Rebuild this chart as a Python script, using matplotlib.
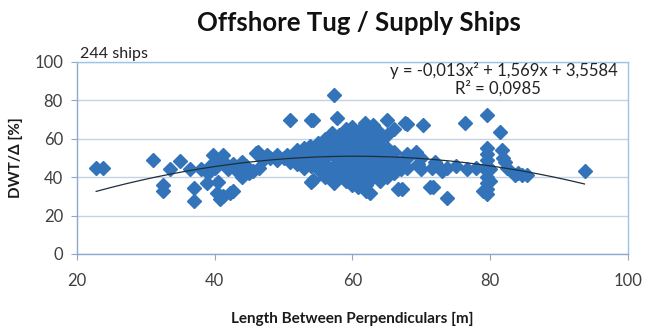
import matplotlib
matplotlib.use("Agg")
import matplotlib.pyplot as plt
import numpy as np

title = "Offshore Tug / Supply Ships"
subtitle = "244 ships"
xlabel = "Length Between Perpendiculars [m]"
ylabel = "DWT/Δ [%]"
eq_text = "y = -0,013x² + 1,569x + 3,5584"
r2_text = "R² = 0,0985"
coef = [-0.013, 1.569, 3.5584]
trend_range = [22.8, 93.7]
xticks = [20, 40, 60, 80, 100]
yticks = [0, 20, 40, 60, 80, 100]

lpp = [22.8, 23.8, 31, 32.5, 32.5, 33.5, 35, 36.4, 37, 37, 38.9, 39.3, 39.7, 41.2, 40.5, 40.8,
       40.3, 42.2, 41.2, 40, 41, 42.6, 42.6, 44, 45, 45.5, 46.3, 46.5, 46, 47.6, 49, 50.5, 52,
       53.8, 54.8, 50.9, 54, 54, 38, 39, 42, 43, 44, 48, 49, 51, 50, 47, 44.5, 43.5,
       57.4, 54.3, 57.7, 61.8, 65, 67.6, 59, 60, 61, 62, 63, 64, 54.3, 57.4, 60.8, 62.5, 66.6, 61.5,
       52, 53, 53, 54, 54, 55, 55, 55, 56, 56, 56, 57, 57, 57, 57, 58, 58, 58, 58, 58, 59, 59, 59,
       59, 59, 60, 60, 60, 60, 60, 60, 61, 61, 61, 61, 61, 62, 62, 62, 62, 62, 62, 63, 63, 63, 63,
       63, 63, 64, 64, 64, 64, 64, 65, 65, 65, 65, 66, 66, 66, 67, 67, 68, 55, 56, 58, 60, 62, 64,
       65, 53, 52, 55, 56, 57, 59, 60, 62, 63, 64, 65, 66, 56, 57, 54, 53, 52, 51, 58, 59, 61, 63,
       64, 66, 67, 71.2,
       67.9, 70.3, 76.3, 79.5, 81.4, 69.3, 69.5, 67.9, 71.5, 72.7, 73.8, 73, 76.6, 71.7, 73.7,
       67.2, 79.5, 79.5, 79.5, 79.5, 79.5, 79.5, 79.5, 79.5, 79.5, 79, 80, 81.7, 81.8, 82.1,
       82.4, 83.6, 84.6, 85.3, 84, 93.7, 70, 72, 68, 70, 75, 78, 80]
dwt = [45, 45, 49, 36, 33, 44, 48.5, 44, 34.5, 27.5, 37, 46, 51.5, 51.5, 37.5, 28.5,
       32, 32, 30, 45, 49, 47, 33, 40, 42, 43, 53, 45, 52.5, 51.5, 51.5, 51.5, 54,
       56, 57, 69.8, 70, 37.5, 44, 42, 44, 45, 48, 50, 49, 48, 50, 49, 46, 42,
       83, 70, 71, 68, 70, 68, 63, 62, 64, 63, 62, 63, 38.5, 37, 35, 32, 34, 41,
       50, 52, 48, 50, 46, 52, 48, 55, 50, 47, 54, 52, 56, 45, 60, 50, 55, 48, 58, 62, 52, 46, 57,
       42, 60, 50, 54, 48, 58, 44, 40, 52, 56, 46, 60, 38, 50, 54, 47, 58, 43, 36, 52, 49, 56, 45,
       40, 59, 50, 54, 47, 44, 57, 52, 48, 45, 55, 50, 46, 53, 48, 44, 50, 44, 42, 40, 36, 33, 38,
       40, 45, 47, 58, 60, 63, 65, 66, 66, 67, 60, 62, 65, 40, 42, 54, 55, 52, 50, 44, 38, 43, 43,
       41, 42, 47, 35,
       67.7, 67, 68, 72.5, 63.5, 53, 47, 45, 45, 45, 45, 43, 44, 35, 29,
       34, 55, 52, 49, 46, 43, 40, 37, 34, 31, 33, 38, 54, 50, 48,
       45, 41, 41, 41, 42, 43, 50, 48, 52, 44, 46, 45, 44]

marker_color = "#3273BA"
grid_color = "#C6D2E4"

fig = plt.figure(figsize=(6.46, 3.35), dpi=100)
ax = fig.add_axes([0.119, 0.242, 0.853, 0.573])

ax.plot(lpp, dwt, linestyle="none", marker="D", markersize=7.2,
        markerfacecolor=marker_color, markeredgecolor=marker_color, zorder=3)

xt = np.linspace(trend_range[0], trend_range[1], 200)
ax.plot(xt, np.polyval(coef, xt), color="#1f2f3a", linewidth=0.9, zorder=4)

ax.set_xlim(20, 100)
ax.set_ylim(0, 100)
ax.set_xticks(xticks)
ax.set_yticks(yticks)
ax.yaxis.grid(True, color=grid_color, linewidth=1.0)
ax.set_axisbelow(True)

for s in ["top", "right"]:
    ax.spines[s].set_color("#9DC3E6")
    ax.spines[s].set_linewidth(1.0)
for s in ["left", "bottom"]:
    ax.spines[s].set_color("#8EA9C8")
    ax.spines[s].set_linewidth(1.0)

ax.tick_params(axis="both", direction="out", length=4, color="#8EA9C8",
               labelsize=12, labelcolor="#404040", pad=6)
ax.tick_params(axis="x", pad=10)
for lab in ax.get_xticklabels() + ax.get_yticklabels():
    lab.set_family("Lato")

ax.set_xlabel(xlabel, fontsize=11, fontweight="bold", family="Lato", labelpad=16, color="#1a1a1a")
ax.set_ylabel(ylabel, fontsize=11, fontweight="bold", family="Lato", labelpad=8, color="#1a1a1a")

fig.text(0.555, 0.932, title, ha="center", va="center", fontsize=18.5, fontweight="bold",
         family="Lato", color="#111111")
ax.text(0.005, 1.005, subtitle, transform=ax.transAxes, ha="left", va="bottom",
        fontsize=11.5, family="Lato", color="#222222")
ax.text(0.982, 0.955, eq_text, transform=ax.transAxes, ha="right", va="center",
        fontsize=12, family="Lato", color="#222222")
ax.text(0.765, 0.86, r2_text, transform=ax.transAxes, ha="center", va="center",
        fontsize=12, family="Lato", color="#222222")

fig.savefig("out.png", dpi=100)
